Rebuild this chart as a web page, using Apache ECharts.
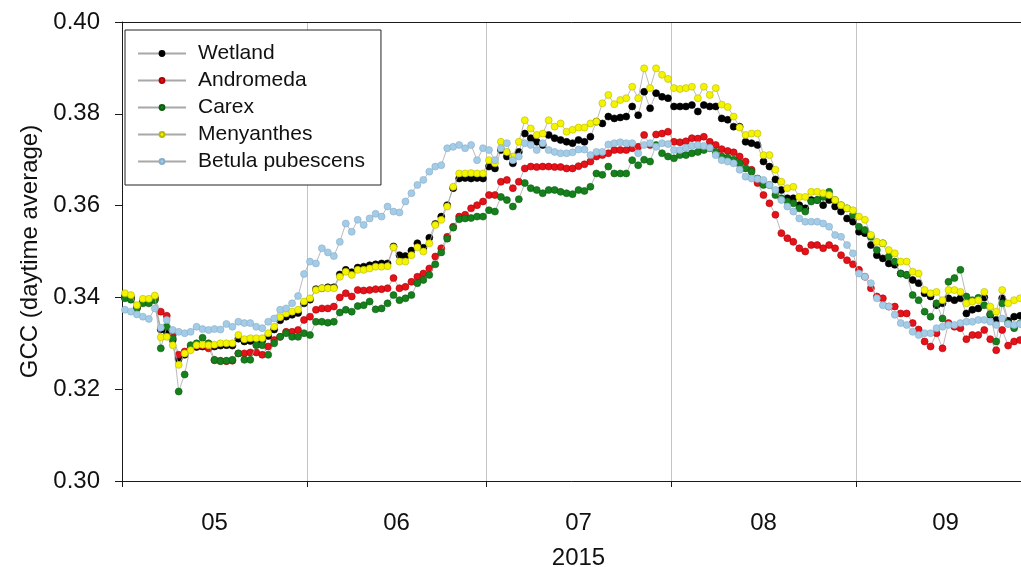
<!DOCTYPE html>
<html>
<head>
<meta charset="utf-8">
<script src="https://cdn.jsdelivr.net/npm/echarts@6/dist/echarts.min.js"></script>
<style>
html,body{margin:0;padding:0;background:#ffffff;overflow:hidden}
#chart{width:1021px;height:567px}
</style>
</head>
<body>
<div id="chart"></div>
<script>
// ---- axis / category definitions ----
const year = '2015';
const monthLabels = ['05', '06', '07', '08', '09'];
const monthLengths = [31, 30, 31, 31, 30];
const yMin = 0.30, yMax = 0.40, yStep = 0.02;
const yTitle = 'GCC (daytime average)';
const seriesNames = ['Wetland', 'Andromeda', 'Carex', 'Menyanthes', 'Betula pubescens'];

// ---- daily values, May 1 onward ----
const wetland = [
 0.3403,0.3400,0.3378,0.3391,0.3391,0.3399,0.3330,0.3325,0.3307,0.3266,
 0.3275,0.3289,0.3292,0.3293,0.3292,0.3293,0.3295,0.3296,0.3295,0.3310,
 0.3304,0.3305,0.3306,0.3306,0.3316,0.3330,0.3350,0.3358,0.3362,0.3366,
 0.3387,0.3395,0.3418,0.3420,0.3422,0.3422,0.3450,0.3460,0.3455,0.3465,
 0.3467,0.3470,0.3472,0.3474,0.3474,0.3511,0.3492,0.3490,0.3502,0.3518,
 0.3508,0.3530,0.3560,0.3576,0.3601,0.3638,0.3659,0.3660,0.3659,0.3660,
 0.3659,0.3685,0.3681,0.3721,0.3707,0.3692,0.3717,0.3757,0.3747,0.3739,
 0.3732,0.3754,0.3747,0.3743,0.3739,0.3736,0.3743,0.3739,0.3750,0.3783,
 0.3779,0.3794,0.3790,0.3792,0.3794,0.3816,0.3797,0.3848,0.3812,0.3845,
 0.3837,0.3834,0.3816,0.3816,0.3816,0.3819,0.3805,0.3819,0.3816,0.3816,
 0.3790,0.3787,0.3772,0.3772,0.3739,0.3736,0.3732,0.3696,0.3685,0.3657,
 0.3634,0.3616,0.3616,0.3601,0.3594,0.3612,0.3612,0.3601,0.3612,0.3598,
 0.3587,0.3572,0.3565,0.3543,0.3540,0.3514,0.3492,0.3485,0.3474,0.3471,
 0.3452,0.3449,0.3438,0.3431,0.3409,0.3402,0.3383,0.3387,0.3398,0.3394,
 0.3398,0.3365,0.3373,0.3376,0.3400,0.3362,0.3351,0.3398,0.3349,0.3358,
 0.3360];
const andromeda = [
 0.3400,0.3397,0.3378,0.3389,0.3389,0.3396,0.3369,0.3360,0.3318,0.3275,
 0.3282,0.3289,0.3295,0.3295,0.3289,0.3263,0.3262,0.3261,0.3262,0.3278,
 0.3278,0.3280,0.3280,0.3275,0.3293,0.3307,0.3314,0.3325,0.3325,0.3329,
 0.3351,0.3358,0.3373,0.3376,0.3376,0.3380,0.3400,0.3409,0.3402,0.3416,
 0.3415,0.3416,0.3418,0.3418,0.3420,0.3442,0.3420,0.3423,0.3434,0.3445,
 0.3452,0.3463,0.3489,0.3507,0.3532,0.3554,0.3576,0.3580,0.3594,0.3601,
 0.3609,0.3623,0.3623,0.3652,0.3656,0.3638,0.3652,0.3681,0.3685,0.3684,
 0.3685,0.3685,0.3684,0.3684,0.3681,0.3681,0.3686,0.3690,0.3696,0.3707,
 0.3710,0.3714,0.3721,0.3721,0.3721,0.3725,0.3728,0.3754,0.3732,0.3755,
 0.3757,0.3761,0.3739,0.3738,0.3740,0.3747,0.3746,0.3750,0.3739,0.3732,
 0.3723,0.3719,0.3716,0.3707,0.3696,0.3678,0.3649,0.3623,0.3605,0.3580,
 0.3540,0.3529,0.3521,0.3507,0.3500,0.3514,0.3514,0.3507,0.3514,0.3507,
 0.3492,0.3481,0.3472,0.3460,0.3445,0.3420,0.3402,0.3398,0.3380,0.3380,
 0.3365,0.3365,0.3344,0.3330,0.3304,0.3293,0.3322,0.3289,0.3344,0.3336,
 0.3333,0.3309,0.3318,0.3318,0.3329,0.3309,0.3285,0.3329,0.3295,0.3304,
 0.3307];
const carex = [
 0.3398,0.3395,0.3376,0.3387,0.3387,0.3394,0.3289,0.3336,0.3311,0.3195,
 0.3232,0.3296,0.3300,0.3312,0.3300,0.3264,0.3261,0.3262,0.3264,0.3278,
 0.3264,0.3264,0.3296,0.3296,0.3275,0.3300,0.3314,0.3322,0.3314,0.3314,
 0.3322,0.3318,0.3347,0.3347,0.3345,0.3347,0.3367,0.3373,0.3369,0.3381,
 0.3383,0.3391,0.3374,0.3376,0.3387,0.3405,0.3394,0.3398,0.3405,0.3431,
 0.3438,0.3449,0.3472,0.3498,0.3528,0.3552,0.3570,0.3572,0.3573,0.3576,
 0.3576,0.3590,0.3587,0.3619,0.3612,0.3598,0.3614,0.3649,0.3638,0.3634,
 0.3627,0.3634,0.3634,0.3630,0.3627,0.3625,0.3634,0.3632,0.3641,0.3670,
 0.3667,0.3685,0.3670,0.3670,0.3670,0.3699,0.3688,0.3700,0.3696,0.3732,
 0.3714,0.3707,0.3703,0.3710,0.3710,0.3714,0.3717,0.3721,0.3725,0.3717,
 0.3707,0.3704,0.3700,0.3692,0.3681,0.3674,0.3659,0.3645,0.3645,0.3623,
 0.3616,0.3609,0.3605,0.3594,0.3587,0.3609,0.3612,0.3619,0.3630,0.3612,
 0.3601,0.3594,0.3580,0.3554,0.3547,0.3532,0.3503,0.3518,0.3489,0.3478,
 0.3452,0.3449,0.3405,0.3394,0.3369,0.3358,0.3387,0.3354,0.3434,0.3442,
 0.3460,0.3402,0.3394,0.3399,0.3383,0.3364,0.3304,0.3387,0.3343,0.3333,
 0.3343];
const menyanthes = [
 0.3409,0.3405,0.3383,0.3397,0.3397,0.3404,0.3313,0.3314,0.3296,0.3253,
 0.3278,0.3285,0.3296,0.3297,0.3296,0.3297,0.3300,0.3300,0.3300,0.3318,
 0.3309,0.3311,0.3311,0.3311,0.3322,0.3336,0.3357,0.3365,0.3369,0.3373,
 0.3391,0.3398,0.3416,0.3420,0.3420,0.3420,0.3445,0.3456,0.3449,0.3460,
 0.3460,0.3463,0.3467,0.3467,0.3468,0.3509,0.3478,0.3478,0.3492,0.3509,
 0.3500,0.3518,0.3558,0.3569,0.3598,0.3641,0.3670,0.3670,0.3671,0.3670,
 0.3670,0.3699,0.3692,0.3739,0.3717,0.3707,0.3739,0.3786,0.3768,0.3754,
 0.3757,0.3786,0.3772,0.3779,0.3761,0.3765,0.3770,0.3770,0.3779,0.3783,
 0.3823,0.3841,0.3821,0.3830,0.3834,0.3859,0.3834,0.3899,0.3856,0.3899,
 0.3885,0.3876,0.3856,0.3854,0.3856,0.3859,0.3834,0.3859,0.3841,0.3856,
 0.3820,0.3815,0.3794,0.3770,0.3754,0.3757,0.3757,0.3710,0.3710,0.3678,
 0.3652,0.3638,0.3641,0.3619,0.3619,0.3630,0.3630,0.3627,0.3623,0.3612,
 0.3601,0.3594,0.3590,0.3576,0.3569,0.3536,0.3521,0.3518,0.3503,0.3496,
 0.3478,0.3478,0.3456,0.3452,0.3416,0.3409,0.3412,0.3394,0.3416,0.3416,
 0.3412,0.3387,0.3391,0.3394,0.3412,0.3380,0.3369,0.3416,0.3387,0.3394,
 0.3398];
const betula = [
 0.3373,0.3369,0.3363,0.3358,0.3353,0.3376,0.3334,0.3351,0.3329,0.3325,
 0.3322,0.3325,0.3336,0.3331,0.3329,0.3331,0.3330,0.3342,0.3336,0.3347,
 0.3344,0.3344,0.3336,0.3333,0.3347,0.3354,0.3373,0.3376,0.3387,0.3403,
 0.3451,0.3478,0.3474,0.3507,0.3498,0.3490,0.3521,0.3561,0.3543,0.3569,
 0.3558,0.3572,0.3582,0.3576,0.3598,0.3587,0.3585,0.3609,0.3627,0.3645,
 0.3656,0.3674,0.3685,0.3688,0.3725,0.3728,0.3732,0.3725,0.3732,0.3699,
 0.3725,0.3721,0.3699,0.3725,0.3736,0.3699,0.3707,0.3736,0.3732,0.3721,
 0.3736,0.3721,0.3717,0.3714,0.3714,0.3716,0.3722,0.3722,0.3710,0.3717,
 0.3717,0.3733,0.3736,0.3738,0.3736,0.3736,0.3714,0.3732,0.3736,0.3728,
 0.3736,0.3734,0.3721,0.3721,0.3726,0.3730,0.3732,0.3730,0.3726,0.3710,
 0.3699,0.3696,0.3692,0.3678,0.3663,0.3659,0.3658,0.3656,0.3645,0.3634,
 0.3612,0.3598,0.3587,0.3572,0.3565,0.3565,0.3565,0.3561,0.3554,0.3536,
 0.3532,0.3514,0.3496,0.3452,0.3445,0.3431,0.3398,0.3383,0.3380,0.3362,
 0.3344,0.3340,0.3325,0.3318,0.3322,0.3322,0.3333,0.3336,0.3340,0.3340,
 0.3344,0.3347,0.3347,0.3351,0.3351,0.3347,0.3340,0.3354,0.3342,0.3340,
 0.3342];

const seriesValues = [wetland, andromeda, carex, menyanthes, betula];
const markerColors = ['#000000', '#e4121a', '#15801c', '#f4f400', '#a4cce6'];
const markerBorders = ['#000000', '#b00000', '#0b5e10', '#b9b900', '#86aecb'];

// ---- build categories (one per day) ----
const categories = [];
monthLabels.forEach((m, i) => {
  for (let d = 1; d <= monthLengths[i]; d++) {
    categories.push(year + '-' + m + '-' + String(d).padStart(2, '0'));
  }
});
const isMonthStart = (idx, val) => val.slice(8) === '01';
const isMidMonth = (idx, val) => val.slice(8) === '16';

const FONT = 'Liberation Sans, Arial, sans-serif';

const chart = echarts.init(document.getElementById('chart'), null, {renderer: 'canvas'});
chart.setOption({
  animation: false,
  backgroundColor: '#ffffff',
  textStyle: {fontFamily: FONT, color: '#111111'},
  grid: {left: 122, top: 22, width: 913, height: 459, containLabel: false, outerBoundsMode: 'none'},
  legend: {
    orient: 'vertical',
    left: 125, top: 30,
    padding: [10, 16, 10, 12],
    itemWidth: 48, itemHeight: 6, itemGap: 0,
    borderColor: '#222222', borderWidth: 1,
    backgroundColor: '#ffffff',
    textStyle: {fontFamily: FONT, fontSize: 21, color: '#111111', lineHeight: 27, padding: [0, 0, 0, 7]},
    data: seriesNames
  },
  xAxis: [{
    type: 'category',
    data: categories,
    boundaryGap: true,
    name: year,
    nameLocation: 'middle',
    nameGap: 65,
    nameTextStyle: {fontFamily: FONT, fontSize: 24, color: '#111111'},
    axisLine: {show: true, lineStyle: {color: '#1a1a1a', width: 1}},
    axisTick: {show: true, interval: isMonthStart, length: 6, inside: false, lineStyle: {color: '#1a1a1a'}},
    splitLine: {show: true, interval: isMonthStart, lineStyle: {color: '#c4c4c4', width: 1}},
    axisLabel: {
      show: true, interval: isMidMonth, margin: 30,
      fontFamily: FONT, fontSize: 24, color: '#111111',
      formatter: (val) => {
        const m = val.slice(5, 7);
        const len = monthLengths[monthLabels.indexOf(m)];
        return len === 30 ? '{e|' + m + '}' : '{o|' + m + '}';
      },
      rich: {
        e: {fontFamily: FONT, fontSize: 24, color: '#111111', padding: [0, 6, 0, 0]},
        o: {fontFamily: FONT, fontSize: 24, color: '#111111'}
      }
    }
  }, {
    type: 'category',
    data: categories,
    position: 'top',
    boundaryGap: true,
    axisLine: {show: true, lineStyle: {color: '#1a1a1a', width: 1}},
    axisTick: {show: false},
    axisLabel: {show: false},
    splitLine: {show: false}
  }],
  yAxis: {
    type: 'value',
    min: yMin, max: yMax, interval: yStep,
    name: yTitle,
    nameLocation: 'middle',
    nameRotate: 90,
    nameGap: 71,
    nameTextStyle: {fontFamily: FONT, fontSize: 24, color: '#111111'},
    axisLine: {show: true, lineStyle: {color: '#1a1a1a', width: 1}},
    axisTick: {show: true, length: 7, inside: false, lineStyle: {color: '#1a1a1a'}},
    splitLine: {show: false},
    axisLabel: {
      margin: 22, fontFamily: FONT, fontSize: 24, color: '#111111',
      formatter: (v) => v.toFixed(2)
    }
  },
  series: seriesNames.map((name, i) => ({
    name: name,
    type: 'line',
    data: seriesValues[i],
    symbol: 'circle',
    symbolSize: 7,
    showSymbol: true,
    showAllSymbol: true,
    lineStyle: {color: '#a8a8a8', width: 0.8},
    itemStyle: {color: markerColors[i], borderColor: markerBorders[i], borderWidth: 0.6},
    emphasis: {disabled: true},
    z: 2 + i
  }))
});
</script>
</body>
</html>
